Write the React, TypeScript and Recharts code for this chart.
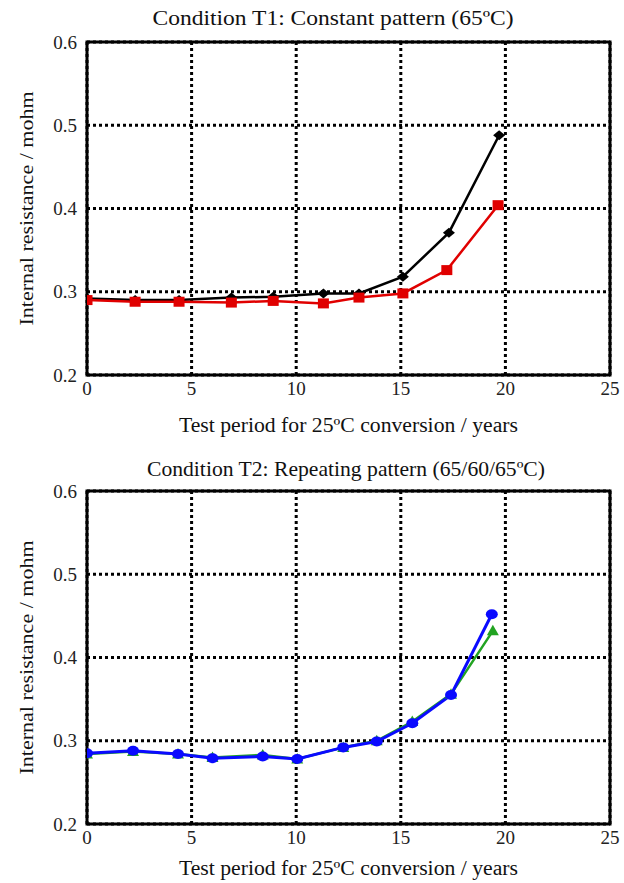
import React from "react";
import {
  LineChart,
  Line,
  XAxis,
  YAxis,
  CartesianGrid,
  ReferenceArea,
} from "recharts";

// ---- Data ----
const X_TICKS = [0, 5, 10, 15, 20, 25];
const Y_TICKS = [0.2, 0.3, 0.4, 0.5, 0.6];

const T1_TITLE = "Condition T1: Constant pattern (65ºC)";
const T2_TITLE = "Condition T2: Repeating pattern (65/60/65ºC)";
const X_TITLE = "Test period for 25ºC conversion / years";
const Y_TITLE = "Internal resistance / mohm";

const T1_BLACK_YEARS = [0, 2.3, 4.4, 6.9, 8.9, 11.3, 13.0, 15.1, 17.3, 19.7];
const T1_BLACK_VALUES = [0.292, 0.29, 0.29, 0.293, 0.294, 0.298, 0.298, 0.318, 0.371, 0.488];
const T1_RED_YEARS = [0, 2.3, 4.4, 6.9, 8.9, 11.3, 13.0, 15.1, 17.2, 19.65];
const T1_RED_VALUES = [0.29, 0.288, 0.288, 0.287, 0.289, 0.286, 0.293, 0.298, 0.326, 0.404];

const T2_GREEN_YEARS = [0, 2.2, 4.35, 6.0, 8.4, 10.05, 12.25, 13.85, 15.55, 17.4, 19.4];
const T2_GREEN_VALUES = [0.284, 0.287, 0.284, 0.28, 0.283, 0.278, 0.292, 0.3, 0.323, 0.356, 0.432];
const T2_BLUE_YEARS = [0, 2.2, 4.35, 6.0, 8.4, 10.05, 12.25, 13.85, 15.55, 17.4, 19.35];
const T2_BLUE_VALUES = [0.285, 0.288, 0.284, 0.279, 0.281, 0.278, 0.292, 0.299, 0.321, 0.355, 0.452];

const toPoints = (xs: number[], ys: number[]) => xs.map((x, i) => ({ x, y: ys[i] }));

const FONT = "'Liberation Serif', 'Times New Roman', serif";

// ---- Marker shapes ----
const Diamond = (props: any) => {
  const { cx, cy, index } = props;
  if (cx == null || cy == null) return <g key={index} />;
  return (
    <path
      key={index}
      d={`M${cx - 6},${cy} L${cx},${cy - 5} L${cx + 6},${cy} L${cx},${cy + 5} Z`}
      fill="#000"
    />
  );
};
const Square = (props: any) => {
  const { cx, cy, index } = props;
  if (cx == null || cy == null) return <g key={index} />;
  return <rect key={index} x={cx - 5.5} y={cy - 5} width={11} height={10} fill="#e00000" />;
};
const Circle = (props: any) => {
  const { cx, cy, index } = props;
  if (cx == null || cy == null) return <g key={index} />;
  return <ellipse key={index} cx={cx} cy={cy} rx={6} ry={5} fill="#0a0aff" />;
};
const Triangle = (props: any) => {
  const { cx, cy, index } = props;
  if (cx == null || cy == null) return <g key={index} />;
  return (
    <path
      key={index}
      d={`M${cx},${cy - 6} L${cx + 6},${cy + 4.5} L${cx - 6},${cy + 4.5} Z`}
      fill="#22a322"
    />
  );
};

type SeriesDef = {
  name: string;
  data: { x: number; y: number }[];
  color: string;
  width: number;
  dot: (p: any) => React.ReactElement;
};

const Panel = ({ height, series, xTitleGap }: { height: number; series: SeriesDef[]; xTitleGap: number }) => {
  const xLabel = (p: any) => {
    const vb = p.viewBox || {};
    const cx = (vb.x ?? 87) + (vb.width ?? 523) / 2;
    const y = (vb.y ?? 375) + xTitleGap;
    return (
      <text
        x={cx}
        y={y}
        textAnchor="middle"
        dominantBaseline="central"
        fontFamily={FONT}
        fontSize={20}
        textLength={339}
        lengthAdjust="spacingAndGlyphs"
        fill="#111"
      >
        {X_TITLE}
      </text>
    );
  };
  const yLabel = (p: any) => {
    const vb = p.viewBox || {};
    const cy = (vb.y ?? 42) + (vb.height ?? 333) / 2;
    const cx = 26;
    return (
      <text
        x={cx}
        y={cy}
        transform={`rotate(-90 ${cx} ${cy})`}
        textAnchor="middle"
        dominantBaseline="central"
        fontFamily={FONT}
        fontSize={19}
        textLength={234}
        lengthAdjust="spacingAndGlyphs"
        fill="#111"
      >
        {Y_TITLE}
      </text>
    );
  };
  return (
    <LineChart width={624} height={height} margin={{ top: 42, right: 14, left: 0, bottom: 0 }}>
      <CartesianGrid stroke="#000" strokeWidth={3} strokeDasharray="3 3" />
      <XAxis
        type="number"
        dataKey="x"
        domain={[0, 25]}
        ticks={X_TICKS}
        allowDataOverflow
        height={height - 42 - 333}
        axisLine={false}
        tickLine={false}
        tickSize={0}
        tickMargin={7}
        tick={{ fontFamily: FONT, fontSize: 19, fill: "#222" }}
        label={{ content: xLabel }}
      />
      <YAxis
        type="number"
        dataKey="y"
        domain={[0.2, 0.6]}
        ticks={Y_TICKS}
        allowDataOverflow
        width={87}
        axisLine={false}
        tickLine={false}
        tickSize={0}
        tickMargin={10}
        tickFormatter={(v: number) => v.toFixed(1)}
        tick={{ fontFamily: FONT, fontSize: 19, fill: "#222" }}
        label={{ content: yLabel }}
      />
      <ReferenceArea x1={0} x2={25} y1={0.2} y2={0.6} fill="none" fillOpacity={0} stroke="#000" strokeWidth={3} />
      {series.map((s) => (
        <Line
          key={s.name}
          data={s.data}
          dataKey="y"
          type="linear"
          stroke={s.color}
          strokeWidth={s.width}
          dot={s.dot}
          activeDot={false}
          isAnimationActive={false}
        />
      ))}
    </LineChart>
  );
};

const titleStyle = (top: number, center: number, sx: number): React.CSSProperties => ({
  position: "absolute",
  top,
  left: center - 300,
  width: 600,
  textAlign: "center",
  fontFamily: FONT,
  fontSize: 21,
  lineHeight: "24px",
  color: "#111",
  transform: `scaleX(${sx})`,
  transformOrigin: `300px 12px`,
});

export default function App() {
  const top: SeriesDef[] = [
    { name: "black", data: toPoints(T1_BLACK_YEARS, T1_BLACK_VALUES), color: "#000", width: 2.5, dot: Diamond },
    { name: "red", data: toPoints(T1_RED_YEARS, T1_RED_VALUES), color: "#e00000", width: 2.5, dot: Square },
  ];
  const bottom: SeriesDef[] = [
    { name: "green", data: toPoints(T2_GREEN_YEARS, T2_GREEN_VALUES), color: "#22a322", width: 2.5, dot: Triangle },
    { name: "blue", data: toPoints(T2_BLUE_YEARS, T2_BLUE_VALUES), color: "#0a0aff", width: 3, dot: Circle },
  ];
  return (
    <div style={{ position: "absolute", left: 0, top: 0, width: 624, height: 883, overflow: "hidden", background: "#fff" }}>
      <div style={{ position: "absolute", left: 0, top: 0 }}>
        <Panel height={449} series={top} xTitleGap={50} />
      </div>
      <div style={{ position: "absolute", left: 0, top: 449 }}>
        <Panel height={434} series={bottom} xTitleGap={44} />
      </div>
      <div style={titleStyle(6, 333, 1.12)}>{T1_TITLE}</div>
      <div style={titleStyle(457, 346, 1.03)}>{T2_TITLE}</div>
    </div>
  );
}
